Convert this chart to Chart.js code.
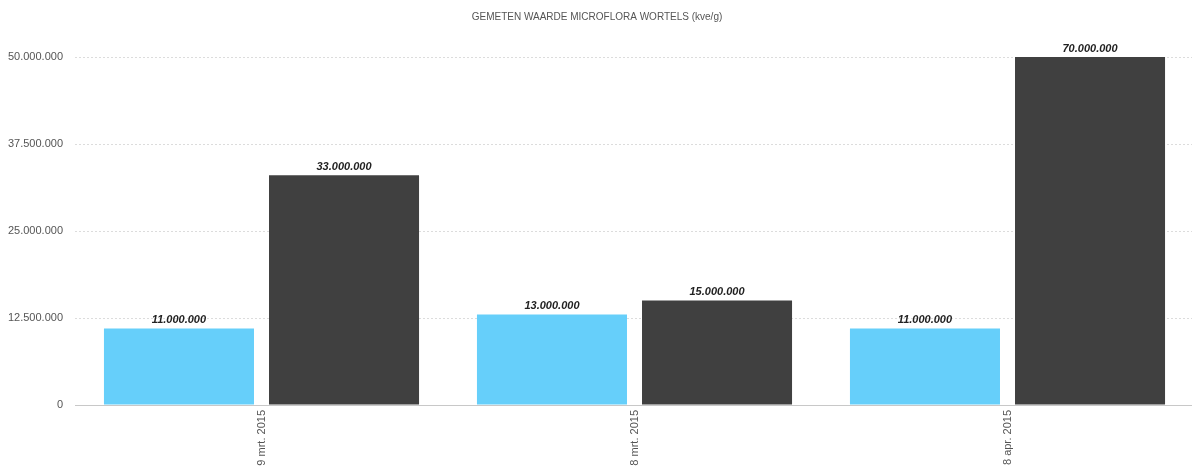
<!DOCTYPE html>
<html>
<head>
<meta charset="utf-8">
<script src="https://cdn.jsdelivr.net/npm/chart.js@4"></script>
<style>
    body { margin: 0; overflow: hidden; background: #fff; }
    #wrap { width: 1196px; height: 468px; }
</style>
</head>
<body>
<div id="wrap"><canvas id="chartBar"></canvas></div>
<script>
const categories = ["9 mrt. 2015", "8 mrt. 2015", "8 apr. 2015"]
const blueValues = [11000000, 13000000, 11000000]
const greyValues = [33000000, 15000000, 70000000]
const yMax = 50000000
const yStep = 12500000

function fmt(v) {
    return String(v).replace(/\B(?=(\d{3})+(?!\d))/g, ".")
}

// values above the bars, also for bars that run past the top of the axis
const barLabels = {
    id: "barLabels",
    afterDatasetsDraw(chart) {
        const ctx = chart.ctx
        const top = chart.chartArea.top
        ctx.save()
        ctx.font = "italic bold 11px 'Liberation Sans', Arial, sans-serif"
        ctx.fillStyle = "#222"
        ctx.textAlign = "center"
        ctx.textBaseline = "bottom"
        chart.data.datasets.forEach((ds, i) => {
            chart.getDatasetMeta(i).data.forEach((bar, j) => {
                const y = Math.max(bar.y, top)
                ctx.fillText(fmt(ds.data[j]), bar.x, y - 3)
            })
        })
        ctx.restore()
    },
}

const data = {
    labels: categories,
    datasets: [
        {
            label: "a",
            backgroundColor: "#66cffa",
            data: blueValues,
        },
        {
            label: "b",
            backgroundColor: "#404040",
            data: greyValues,
        },
    ],
}

const config = {
    type: "bar",
    data: data,
    options: {
        responsive: true,
        maintainAspectRatio: false,
        animation: false,
        layout: { padding: { left: 0, right: 2, top: 0, bottom: 0 } },
        datasets: {
            bar: { categoryPercentage: 0.885, barPercentage: 0.909 },
        },
        plugins: {
            legend: { display: false },
            tooltip: { enabled: false },
            title: {
                display: true,
                text: "GEMETEN WAARDE MICROFLORA WORTELS (kve/g)",
                color: "#555",
                font: { family: "'Liberation Sans', Arial, sans-serif", size: 10, weight: "normal" },
                padding: { top: 11, bottom: 34 },
            },
        },
        scales: {
            x: {
                grid: { display: false, drawTicks: false },
                border: { display: true, color: "#c8c8c8", width: 1 },
                ticks: {
                    color: "#555",
                    font: { family: "'Liberation Sans', Arial, sans-serif", size: 11 },
                    minRotation: 90,
                    maxRotation: 90,
                    padding: 5,
                },
                afterFit(scale) {
                    scale.height = 63
                },
            },
            y: {
                min: 0,
                max: yMax,
                grid: { color: "#dcdcdc", drawTicks: false, lineWidth: 1 },
                border: { display: false, dash: [2, 2] },
                ticks: {
                    stepSize: yStep,
                    color: "#555",
                    padding: 12,
                    font: { family: "'Liberation Sans', Arial, sans-serif", size: 11 },
                    callback: (v) => fmt(v),
                },
                afterFit(scale) {
                    scale.width = 75
                },
            },
        },
    },
    plugins: [barLabels],
}

var chartBar = new Chart(document.getElementById("chartBar"), config)
</script>
</body>
</html>
